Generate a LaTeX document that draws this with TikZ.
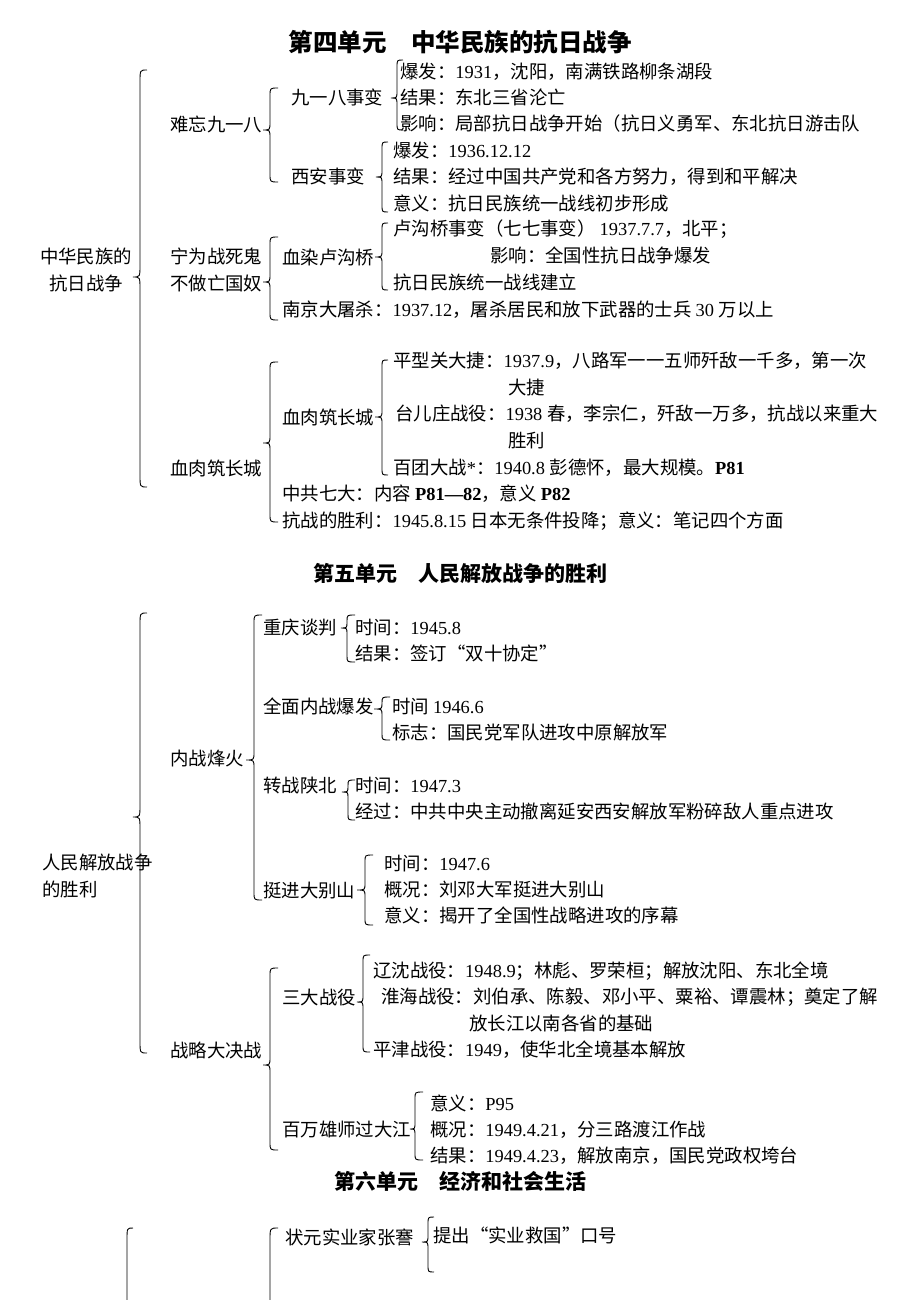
\documentclass[tikz,border=0pt]{standalone}
\usepackage{fontspec}
\setmainfont{Liberation Serif}
\newfontfamily\cjk{Noto Sans CJK SC}
\chardef\cjkclass=10
\makeatletter
\count@="4E00
\loop \XeTeXcharclass\count@=\cjkclass \advance\count@ by 1 \ifnum\count@<"A000 \repeat
\count@="3000
\loop \XeTeXcharclass\count@=\cjkclass \advance\count@ by 1 \ifnum\count@<"3040 \repeat
\count@="FF00
\loop \XeTeXcharclass\count@=\cjkclass \advance\count@ by 1 \ifnum\count@<"FFF0 \repeat
\makeatother
\XeTeXcharclass"201C=\cjkclass
\XeTeXcharclass"201D=\cjkclass
\XeTeXinterchartoks 0 \cjkclass = {\cjk}
\XeTeXinterchartoks 4095 \cjkclass = {\cjk}
\XeTeXinterchartoks \cjkclass 0 = {\rmfamily}
\XeTeXinterchartoks 4095 0 = {\rmfamily}
\XeTeXinterchartokenstate=1
% curly brace: tip x, line x, end x, top y, tip y, bottom y, curl radius
\newcommand\cbr[7]{%
  \draw[brc] (#3,#4) .. controls (#2,#4) .. (#2,#4+#7) -- (#2,#5-#7)
    .. controls (#2,#5) .. (#1,#5) .. controls (#2,#5) .. (#2,#5+#7)
    -- (#2,#6-#7) .. controls (#2,#6) .. (#3,#6);}
\begin{document}
\begin{tikzpicture}[x=1pt,y=-1pt,
  brc/.style={line width=0.9pt, black},
  txt/.style={anchor=base west, inner sep=0pt, font=\fontsize{18.4}{26.5}\selectfont},
  ml/.style={anchor=west, inner sep=0pt, align=left, font=\fontsize{18.4}{26.5}\selectfont},
  ttl/.style={anchor=center, inner sep=0pt, font=\bfseries\fontsize{24.5}{30}\selectfont},
  ttlb/.style={anchor=center, inner sep=0pt, font=\bfseries\fontsize{21}{26}\selectfont}]
\useasboundingbox[fill=white] (0,0) rectangle (920,1300);

% ---------------- Unit 4 ----------------
\node[ttl] (t4) at (460,42) {第四单元　中华民族的抗日战争};
\node[ml, align=center, anchor=center] (u4) at (86,270) {中华民族的\\抗日战争};
\node[txt] (a1) at (170,132) {难忘九一八};
\node[ml] (a2) at (170,270) {宁为战死鬼\\不做亡国奴};
\node[txt] (a3) at (170,475) {血肉筑长城};

\node[txt] (b1) at (291,105) {九一八事变};
\node[txt] (b2) at (291,184) {西安事变};
\node[txt] (b3) at (282,264) {血染卢沟桥};
\node[txt] (b4) at (282,316) {南京大屠杀：1937.12，屠杀居民和放下武器的士兵 30 万以上};
\node[txt] (b5) at (282,424) {血肉筑长城};
\node[txt] (b6) at (282,500) {中共七大：内容 \textbf{P81—82}，意义 \textbf{P82}};
\node[txt] (b7) at (282,527) {抗战的胜利：1945.8.15 日本无条件投降；意义：笔记四个方面};

\node[txt] (c1) at (400,79) {爆发：1931，沈阳，南满铁路柳条湖段};
\node[txt] (c2) at (400,105) {结果：东北三省沦亡};
\node[txt] (c3) at (400,131) {影响：局部抗日战争开始（抗日义勇军、东北抗日游击队};
\node[txt] (c4) at (393,158) {爆发：1936.12.12};
\node[txt] (c5) at (393,184) {结果：经过中国共产党和各方努力，得到和平解决};
\node[txt] (c6) at (393,210) {意义：抗日民族统一战线初步形成};
\node[ml] (c7) at (393,242) {卢沟桥事变（七七事变） 1937.7.7，北平；\\\hspace*{97pt}影响：全国性抗日战争爆发};
\node[txt] (c8) at (393,289) {抗日民族统一战线建立};
\node[ml] (c9) at (393,374) {平型关大捷：1937.9，八路军一一五师歼敌一千多，第一次\\\hspace*{115pt}大捷};
\node[ml] (c10) at (395,427) {台儿庄战役：1938 春，李宗仁，歼敌一万多，抗战以来重大\\\hspace*{113pt}胜利};
\node[txt] (c11) at (393,474) {百团大战*：1940.8 彭德怀，最大规模。\textbf{P81}};

\cbr{133}{140}{147}{70}{277}{487}{12}
\cbr{263}{270}{278}{88}{130}{182}{8}
\cbr{263}{270}{278}{237}{282}{320}{8}
\cbr{263}{270}{278}{362}{443}{522}{8}
\cbr{391}{397}{403}{60}{98}{130}{7}
\cbr{376}{382}{388}{142}{177}{212}{7}
\cbr{375}{382}{388}{223}{257}{290}{7}
\cbr{375}{382}{388}{360}{417}{475}{7}

% ---------------- Unit 5 ----------------
\node[ttlb] (t5) at (460,573) {第五单元　人民解放战争的胜利};
\node[ml] (u5) at (42,876) {人民解放战争\\的胜利};
\node[txt] (d1) at (170,765) {内战烽火};
\node[txt] (d2) at (170,1057) {战略大决战};

\node[txt] (e1) at (263,634) {重庆谈判};
\node[txt] (e2) at (263,713) {全面内战爆发};
\node[txt] (e3) at (263,792) {转战陕北};
\node[txt] (e4) at (263,897) {挺进大别山};
\node[txt] (e5) at (282,1004) {三大战役};
\node[txt] (e6) at (282,1136) {百万雄师过大江};

\node[txt] (f1) at (355,634) {时间：1945.8};
\node[txt] (f2) at (355,660) {结果：签订“双十协定”};
\node[txt] (f3) at (392,713) {时间 1946.6};
\node[txt] (f4) at (392,739) {标志：国民党军队进攻中原解放军};
\node[txt] (f5) at (355,792) {时间：1947.3};
\node[txt] (f6) at (355,818) {经过：中共中央主动撤离延安西安解放军粉碎敌人重点进攻};
\node[txt] (f7) at (384,870) {时间：1947.6};
\node[txt] (f8) at (384,896) {概况：刘邓大军挺进大别山};
\node[txt] (f9) at (384,922) {意义：揭开了全国性战略进攻的序幕};

\node[txt] (g1) at (373,977) {辽沈战役：1948.9；林彪、罗荣桓；解放沈阳、东北全境};
\node[ml] (g2) at (381,1010) {淮海战役：刘伯承、陈毅、邓小平、粟裕、谭震林；奠定了解\\\hspace*{88pt}放长江以南各省的基础};
\node[txt] (g3) at (373,1056) {平津战役：1949，使华北全境基本解放};
\node[txt] (h1) at (430,1110) {意义：P95};
\node[txt] (h2) at (430,1136) {概况：1949.4.21，分三路渡江作战};
\node[txt] (h3) at (430,1162) {结果：1949.4.23，解放南京，国民党政权垮台};

\cbr{133}{140}{147}{613}{817}{1053}{12}
\cbr{246}{254}{262}{615}{760}{900}{8}
\cbr{341}{347}{355}{615}{628}{662}{6}
\cbr{374}{382}{390}{697}{709}{740}{6}
\cbr{342}{348}{355}{780}{792}{820}{6}
\cbr{357}{365}{373}{855}{890}{925}{7}
\cbr{263}{270}{278}{968}{1065}{1150}{8}
\cbr{357}{363}{370}{955}{1002}{1052}{7}
\cbr{410}{415}{423}{1092}{1129}{1160}{7}

% ---------------- Unit 6 ----------------
\node[ttlb] (t6) at (460,1181) {第六单元　经济和社会生活};
\node[txt] (k1) at (285,1244) {状元实业家张謇};
\node[txt] (k2) at (433,1242) {提出“实业救国”口号};
\cbr{422}{428}{434}{1217}{1242}{1272}{7}
\draw[brc] (133,1228) .. controls (127,1228) .. (127,1240) -- (127,1300);
\draw[brc] (278,1228) .. controls (270,1228) .. (270,1240) -- (270,1300);
\end{tikzpicture}
\end{document}
